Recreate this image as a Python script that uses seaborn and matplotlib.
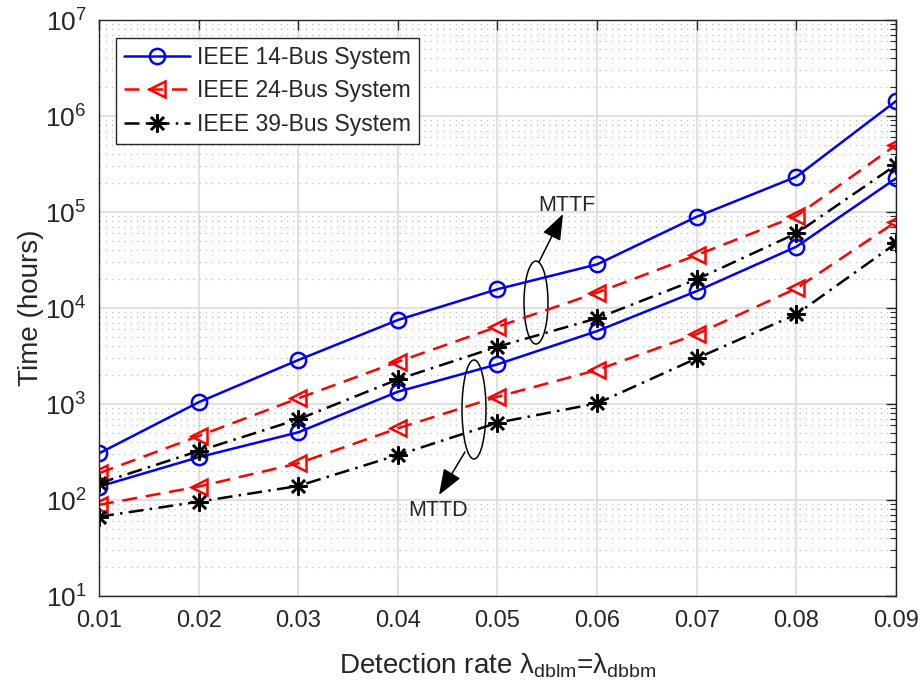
import numpy as np
import pandas as pd
import matplotlib
matplotlib.use("Agg")
import matplotlib.pyplot as plt
import matplotlib.ticker as mticker
from matplotlib.patches import Ellipse
from matplotlib.lines import Line2D
import seaborn as sns

# detection rate (x axis)
rates = [0.01, 0.02, 0.03, 0.04, 0.05, 0.06, 0.07, 0.08, 0.09]

# MTTF curves (hours)
mttf_14 = [306, 1043, 2870, 7500, 15700, 28500, 89300, 233000, 1430000]
mttf_24 = [190, 464, 1145, 2755, 6380, 14450, 35600, 90800, 499000]
mttf_39 = [149, 324, 692, 1806, 3950, 7820, 19900, 60000, 309000]

# MTTD curves (hours)
mttd_14 = [138, 279, 507, 1343, 2590, 5750, 15000, 43500, 224000]
mttd_24 = [89, 138, 241, 558, 1190, 2260, 5350, 16000, 79200]
mttd_39 = [67, 96, 140, 294, 638, 1016, 2990, 8600, 47200]

systems = ["IEEE 14-Bus System", "IEEE 24-Bus System", "IEEE 39-Bus System"]

rows = []
for name, f, d in zip(systems, [mttf_14, mttf_24, mttf_39], [mttd_14, mttd_24, mttd_39]):
    for r, vf, vd in zip(rates, f, d):
        rows.append({"rate": r, "hours": vf, "system": name, "metric": "MTTF"})
        rows.append({"rate": r, "hours": vd, "system": name, "metric": "MTTD"})
df = pd.DataFrame(rows)

sns.set_style("white")
plt.rcParams["font.family"] = ["Liberation Sans", "DejaVu Sans"]
plt.rcParams["mathtext.fontset"] = "custom"
plt.rcParams["mathtext.rm"] = "Liberation Sans"

colors = {systems[0]: "#0000ff", systems[1]: "#ff0000", systems[2]: "#000000"}
markers = {systems[0]: "o", systems[1]: "<", systems[2]: (8, 2, 0)}
styles = {systems[0]: "-", systems[1]: (0, (6, 3.5)), systems[2]: (0, (6, 2.5, 1, 2.5))}
msizes = {systems[0]: 11, systems[1]: 12, systems[2]: 13}

fig = plt.figure(figsize=(9.24, 6.93), dpi=100)
ax = fig.add_axes([99 / 924, 1 - 596 / 693, 797 / 924, 576 / 693])

for name in systems:
    sns.lineplot(
        data=df[df["system"] == name],
        x="rate",
        y="hours",
        units="metric",
        estimator=None,
        color=colors[name],
        marker=markers[name],
        linestyle=styles[name],
        markersize=msizes[name],
        linewidth=1.8,
        mfc="none",
        mec=colors[name],
        mew=1.8,
        legend=False,
        ax=ax,
    )

ax.set_yscale("log")
ax.set_ylim(10, 1e7)
ax.set_xlim(0.01, 0.09)
ax.set_xticks(rates)
ax.set_xticklabels([f"{r:.2f}" for r in rates])
ax.yaxis.set_major_locator(mticker.LogLocator(base=10, numticks=10))
ax.yaxis.set_minor_locator(mticker.LogLocator(base=10, subs=np.arange(2, 10), numticks=20))
ax.yaxis.set_minor_formatter(mticker.NullFormatter())
ax.yaxis.set_major_formatter(
    mticker.FuncFormatter(lambda v, p: r"$\mathregular{10^{%d}}$" % round(np.log10(v)))
)

ax.grid(True, which="major", color="#dcdcdc", linestyle="-", linewidth=1.2)
ax.grid(True, which="minor", axis="y", color="#bdbdbd", linestyle=(0, (1, 4)), linewidth=0.9)
ax.set_axisbelow(True)

ax.tick_params(which="both", direction="in", top=True, right=True, colors="#262626")
ax.tick_params(which="major", length=7, width=1, labelsize=17, pad=10)
ax.tick_params(axis="y", which="major", labelsize=19, pad=9)
ax.tick_params(which="minor", length=4, width=0.8)
for s in ax.spines.values():
    s.set_color("#262626")
    s.set_linewidth(1.0)

ax.set_xlabel(r"Detection rate λ$_{\mathregular{dblm}}$=λ$_{\mathregular{dbbm}}$",
              fontsize=20, color="#262626", labelpad=14)
ax.set_ylabel("Time (hours)", fontsize=20, color="#262626", labelpad=1)

# legend (one entry per system)
handles = [
    Line2D([], [], color=colors[n], marker=markers[n], linestyle=styles[n],
           markersize=msizes[n], linewidth=1.8, mfc="none", mec=colors[n], mew=1.8)
    for n in systems
]
leg = ax.legend(handles, systems, loc="upper left", bbox_to_anchor=(0.0213, 0.9688),
                borderaxespad=0, fontsize=16.5, handlelength=2.9, handletextpad=0.3,
                labelspacing=0.45, borderpad=0.35, fancybox=False, framealpha=1,
                edgecolor="#262626")
leg.get_frame().set_linewidth(1.0)

# MTTF / MTTD annotations
ax.add_patch(Ellipse((0.5483, 0.5095), 0.0301, 0.1441, transform=ax.transAxes,
                     fill=False, edgecolor="k", linewidth=1.1))
ax.add_patch(Ellipse((0.4705, 0.3238), 0.0301, 0.1719, transform=ax.transAxes,
                     fill=False, edgecolor="k", linewidth=1.1))
arrow = dict(arrowstyle="-|>,head_length=0.8,head_width=0.3", color="k", lw=1.1,
             shrinkA=0, shrinkB=0, mutation_scale=20)
ax.annotate("", xy=(0.5822, 0.6632), xytext=(0.5521, 0.5799),
            xycoords="axes fraction", textcoords="axes fraction", arrowprops=arrow)
ax.annotate("", xy=(0.4266, 0.1753), xytext=(0.4592, 0.2500),
            xycoords="axes fraction", textcoords="axes fraction", arrowprops=arrow)
ax.text(0.5872, 0.6780, "MTTF", transform=ax.transAxes, ha="center", va="center", fontsize=15.5)
ax.text(0.4253, 0.1484, "MTTD", transform=ax.transAxes, ha="center", va="center", fontsize=15.5)

fig.savefig("out.png", dpi=100)
